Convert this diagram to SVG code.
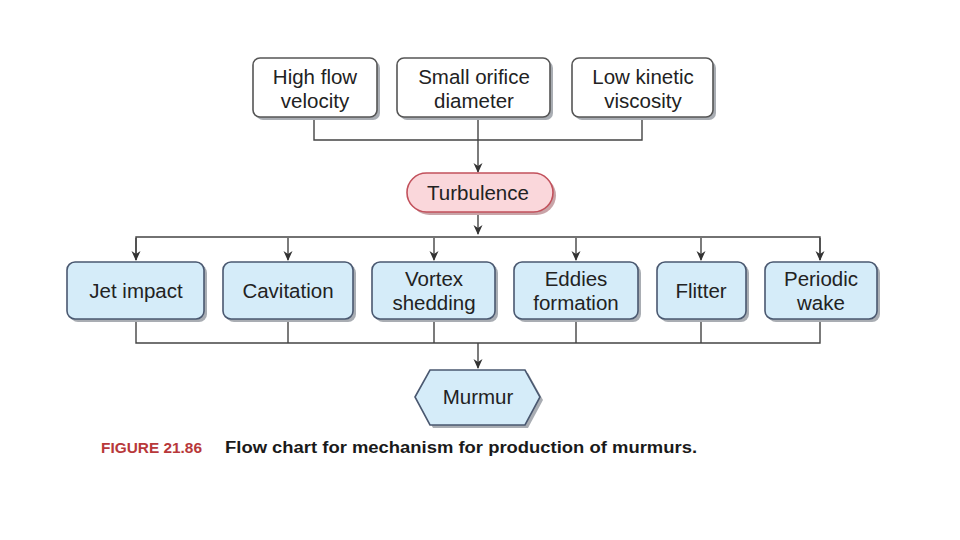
<svg xmlns="http://www.w3.org/2000/svg" width="960" height="540" viewBox="0 0 960 540">
<style>
.t{font-family:"Liberation Sans",Arial,sans-serif;font-size:20.5px;fill:#222;text-anchor:middle}
.w{fill:#fff;stroke:#555;stroke-width:1.6}
.b{fill:#d5ecf9;stroke:#4a5870;stroke-width:1.6}
.sh{fill:#a9adb3}
.c{fill:none;stroke:#444;stroke-width:1.4}
</style>
<defs>
<marker id="ah" viewBox="0 0 10 10" refX="9" refY="5" markerWidth="11" markerHeight="10" orient="auto" markerUnits="userSpaceOnUse">
<path d="M0,0.5 L10,5 L0,9.5 L3,5 Z" fill="#333"/>
</marker>
</defs>
<rect width="960" height="540" fill="#fff"/>
<g id="connectors">
<path class="c" d="M314,117 V140 H642 V117 M478,117 V141"/>
<path class="c" d="M478,141 V172" marker-end="url(#ah)"/>
<path class="c" d="M478,212 V234" marker-end="url(#ah)"/>
<path class="c" d="M136,260 V237 H820 V260"/>
<path class="c" d="M136,238 V260" marker-end="url(#ah)"/>
<path class="c" d="M288,238 V260" marker-end="url(#ah)"/>
<path class="c" d="M434,238 V260" marker-end="url(#ah)"/>
<path class="c" d="M576,238 V260" marker-end="url(#ah)"/>
<path class="c" d="M701,238 V260" marker-end="url(#ah)"/>
<path class="c" d="M820,238 V260" marker-end="url(#ah)"/>
<path class="c" d="M136,320 V343 H820 V320 M288,320 V343 M434,320 V343 M576,320 V343 M701,320 V343"/>
<path class="c" d="M478,343 V368" marker-end="url(#ah)"/>
</g>
<g id="n-high">
<rect class="sh" x="256" y="61" width="124" height="59" rx="7"/>
<rect class="w" x="253" y="58" width="124" height="59" rx="7"/>
<text class="t" x="315" y="84">High flow</text>
<text class="t" x="315" y="108">velocity</text>
</g>
<g id="n-small">
<rect class="sh" x="400" y="61" width="153" height="59" rx="7"/>
<rect class="w" x="397" y="58" width="153" height="59" rx="7"/>
<text class="t" x="474" y="84">Small orifice</text>
<text class="t" x="474" y="108">diameter</text>
</g>
<g id="n-low">
<rect class="sh" x="575" y="61" width="141" height="59" rx="7"/>
<rect class="w" x="572" y="58" width="141" height="59" rx="7"/>
<text class="t" x="643" y="84">Low kinetic</text>
<text class="t" x="643" y="108">viscosity</text>
</g>
<g id="n-turb">
<rect x="410" y="176" width="146" height="39" rx="19.5" fill="#c9a4a8"/>
<rect x="407" y="173" width="146" height="39" rx="19.5" fill="#fad7db" stroke="#c2515c" stroke-width="1.6"/>
<text class="t" x="478" y="200">Turbulence</text>
</g>
<g id="n-jet">
<rect class="sh" x="70" y="265" width="137" height="57" rx="8"/>
<rect class="b" x="67" y="262" width="137" height="57" rx="8"/>
<text class="t" x="136" y="298">Jet impact</text>
</g>
<g id="n-cav">
<rect class="sh" x="226" y="265" width="130" height="57" rx="8"/>
<rect class="b" x="223" y="262" width="130" height="57" rx="8"/>
<text class="t" x="288" y="298">Cavitation</text>
</g>
<g id="n-vortex">
<rect class="sh" x="375" y="265" width="123" height="57" rx="8"/>
<rect class="b" x="372" y="262" width="123" height="57" rx="8"/>
<text class="t" x="434" y="286">Vortex</text>
<text class="t" x="434" y="310">shedding</text>
</g>
<g id="n-eddies">
<rect class="sh" x="517" y="265" width="124" height="57" rx="8"/>
<rect class="b" x="514" y="262" width="124" height="57" rx="8"/>
<text class="t" x="576" y="286">Eddies</text>
<text class="t" x="576" y="310">formation</text>
</g>
<g id="n-flitter">
<rect class="sh" x="660" y="265" width="89" height="57" rx="8"/>
<rect class="b" x="657" y="262" width="89" height="57" rx="8"/>
<text class="t" x="701" y="298">Flitter</text>
</g>
<g id="n-periodic">
<rect class="sh" x="768" y="265" width="112" height="57" rx="8"/>
<rect class="b" x="765" y="262" width="112" height="57" rx="8"/>
<text class="t" x="821" y="286">Periodic</text>
<text class="t" x="821" y="310">wake</text>
</g>
<g id="n-murmur">
<polygon points="418,400 433,373 528,373 543,400 528,428 433,428" fill="#a9adb3"/>
<polygon points="415,397 430,370 525,370 540,397 525,425 430,425" fill="#d5ecf9" stroke="#4a5870" stroke-width="1.6"/>
<text class="t" x="478" y="404">Murmur</text>
</g>
<g id="caption">
<text x="101" y="453" font-family="'Liberation Sans Narrow','Liberation Sans',Arial,sans-serif" font-size="14.5" font-weight="bold" fill="#b8383a" textLength="101" lengthAdjust="spacingAndGlyphs">FIGURE 21.86</text>
<text x="225" y="453" font-family="'Liberation Sans',Arial,sans-serif" font-size="16" font-weight="bold" fill="#1a1a1a" textLength="472" lengthAdjust="spacingAndGlyphs">Flow chart for mechanism for production of murmurs.</text>
</g>
</svg>
